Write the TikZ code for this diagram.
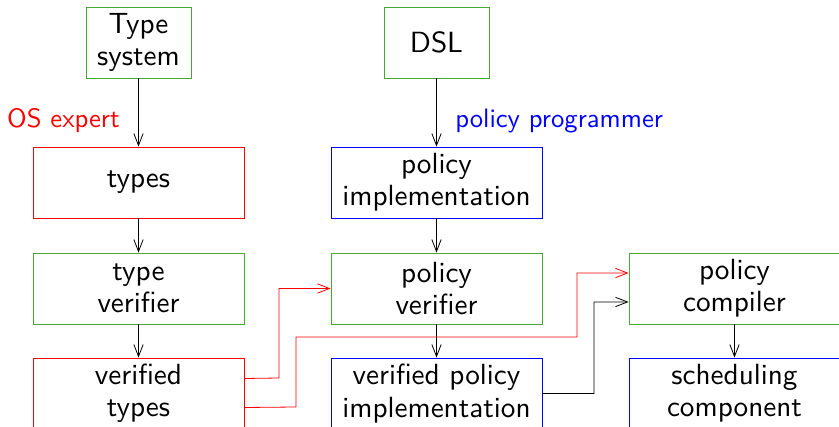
\documentclass[tikz,border=0pt]{standalone}
\usepackage{fontspec}
\usetikzlibrary{arrows.meta}
% sans face of the 10pt design size, scaled up
\newfontfamily\boxfont{lmsans10-regular}[Extension=.otf]
\definecolor{stagegreen}{RGB}{70,170,50}
\begin{document}
\begin{tikzpicture}[
  x=0.75pt, y=-0.75pt,
  font=\boxfont\fontsize{21.9}{24.2}\selectfont,
  box/.style={draw, line width=0.6pt, minimum width=158.25pt, minimum height=53.25pt,
    inner sep=0pt, align=center},
  smallbox/.style={box, minimum width=78.75pt},
  gbox/.style={draw=stagegreen},
  rbox/.style={draw=red},
  bbox/.style={draw=blue},
  link/.style={line width=0.6pt, -{Straight Barb[length=9pt, width=7pt]}},
  role/.style={font=\boxfont\fontsize{20}{22}\selectfont, inner sep=0pt}
]
\useasboundingbox (0,0) rectangle (839,427);

% top row: sources
\node[smallbox, gbox] (ts)  at (138.5,42.5) {Type\\system};
\node[smallbox, gbox] (dsl) at (436.5,42.5) {DSL};

% second row
\node[box, rbox] (types) at (138.5,182.5) {types};
\node[box, bbox] (pimpl) at (436.5,182.5) {policy\\implementation};

% third row: checkers and compiler
\node[box, gbox] (tver) at (138.5,288.5) {type\\verifier};
\node[box, gbox] (pver) at (436.5,288.5) {policy\\verifier};
\node[box, gbox] (pcomp) at (734.5,288.5) {policy\\compiler};

% bottom row
\node[box, rbox] (vtypes) at (138.5,393.5) {verified\\types};
\node[box, bbox] (vpimpl) at (436.5,393.5) {verified policy\\implementation};
\node[box, bbox] (sched) at (734.5,393.5) {scheduling\\component};

% roles
\node[role, text=red, anchor=base east] (osx) at (120,128) {OS expert};
\node[role, text=blue, anchor=base west] (pp) at (455,128) {policy programmer};

% vertical flow
\draw[link] (ts) -- (types);
\draw[link] (types) -- (tver);
\draw[link] (tver) -- (vtypes);
\draw[link] (dsl) -- (pimpl);
\draw[link] (pimpl) -- (pver);
\draw[link] (pver) -- (vpimpl);
\draw[link] (pcomp) -- (sched);

% verified types feed the policy verifier and the compiler
\coordinate (vt1) at ([yshift=11.25pt]vtypes.east);
\coordinate (vt2) at ([yshift=-10.5pt]vtypes.east);
\coordinate (pc1) at ([yshift=11.6pt]pcomp.west);
\coordinate (pc2) at ([yshift=-10.1pt]pcomp.west);
\draw[link, red] (vt1) -- (279,378) -- (279,288.5) -- (pver.west);
\draw[link, red] (vt2) -- (296,407) -- (296,337) -- (577,337) -- (577,273) -- (pc1);
\draw[link] (vpimpl.east) -- (594,393.5) -- (594,302) -- (pc2);
\end{tikzpicture}
\end{document}
